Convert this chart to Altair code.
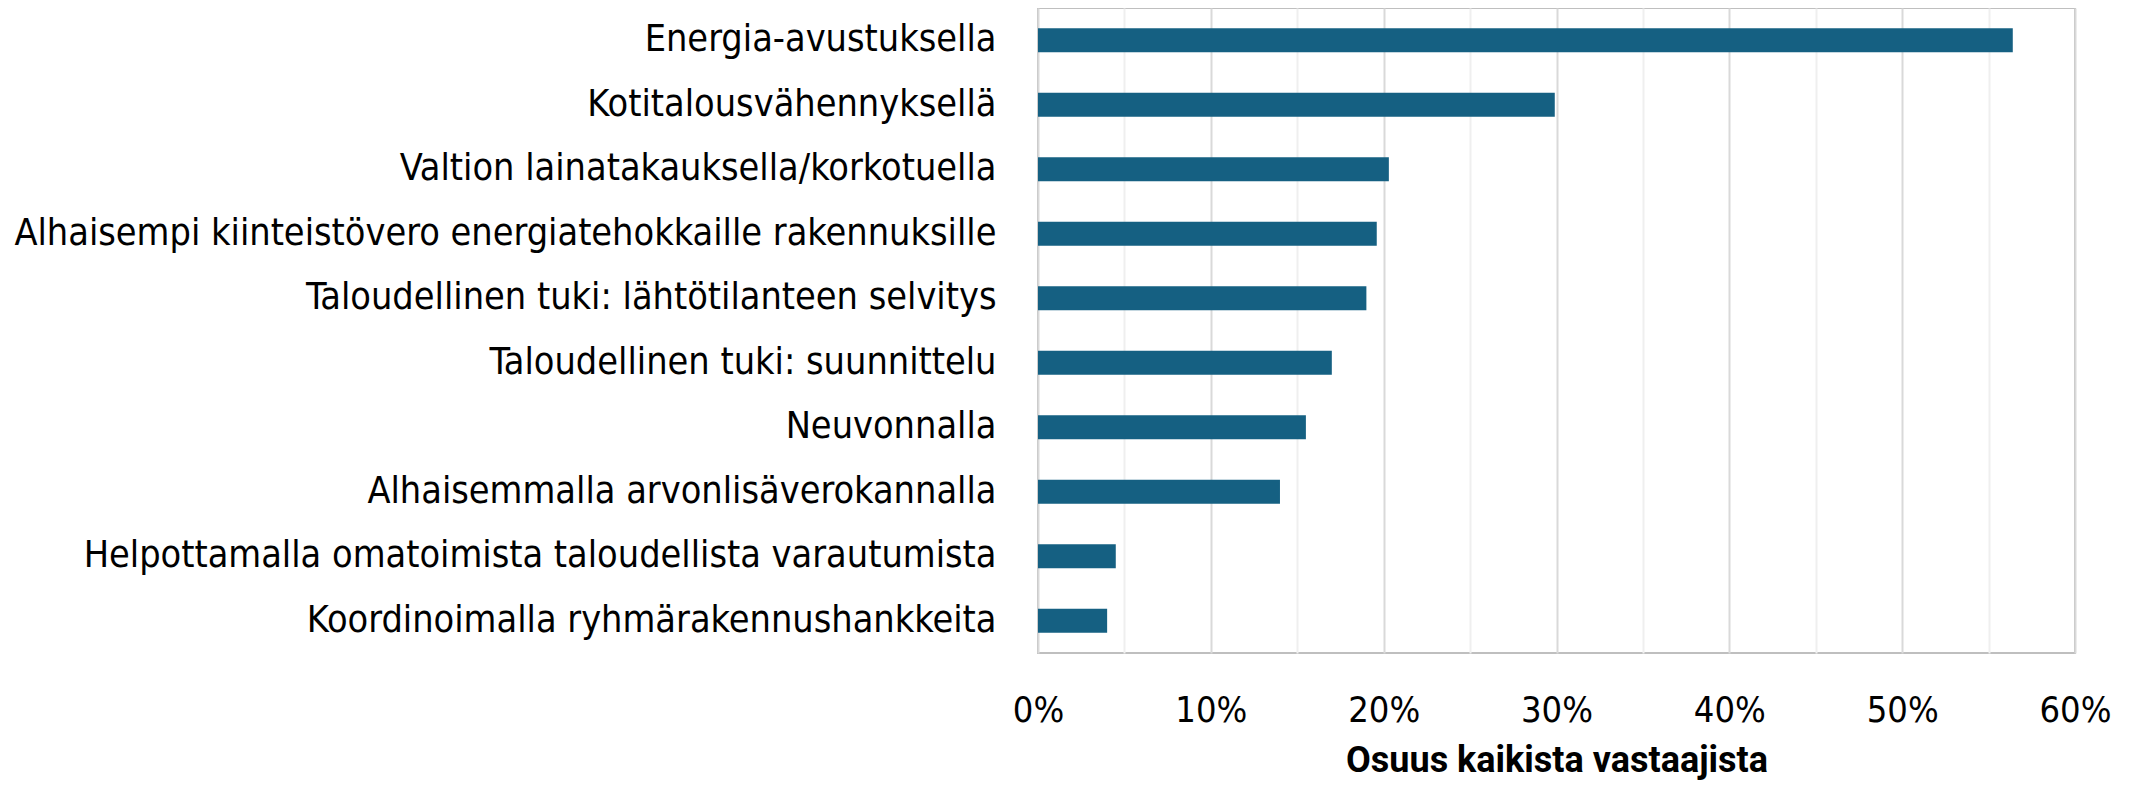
import altair as alt
import pandas as pd

categories = [
    "Energia-avustuksella\u00a0",
    "Kotitalousvähennyksellä",
    "Valtion lainatakauksella/korkotuella\u00a0",
    "Alhaisempi kiinteistövero energiatehokkaille rakennuksille",
    "Taloudellinen tuki: lähtötilanteen selvitys",
    "Taloudellinen tuki: suunnittelu",
    "Neuvonnalla\u00a0",
    "Alhaisemmalla arvonlisäverokannalla\u00a0",
    "Helpottamalla omatoimista taloudellista varautumista",
    "Koordinoimalla ryhmärakennushankkeita\u00a0",
]
values = [56.4, 29.9, 20.3, 19.6, 19.0, 17.0, 15.5, 14.0, 4.5, 4.0]
x_ticks = [0, 5, 10, 15, 20, 25, 30, 35, 40, 45, 50, 55, 60]

df = pd.DataFrame({"cat": categories, "val": values})

LABEL_FONT = "Liberation Sans Narrow, DejaVu Sans Condensed, sans-serif"

chart = (
    alt.Chart(df)
    .mark_bar(color="#156082")
    .encode(
        x=alt.X(
            "val:Q",
            scale=alt.Scale(domain=[0, 60], nice=False),
            axis=alt.Axis(
                values=x_ticks,
                title="Osuus kaikista vastaajista",
                labelExpr="datum.value % 10 == 0 ? datum.value + '%' : ''",
                labelFont=LABEL_FONT,
                labelFontSize=36,
                labelColor="#000000",
                labelPadding=40,
                labelFlush=False,
                ticks=False,
                domain=False,
                grid=True,
                gridColor={
                    "condition": {"test": "datum.value % 10 == 0", "value": "#d9d9d9"},
                    "value": "#efefef",
                },
                gridWidth=2,
                titleFont="Roboto",
                titleFontWeight="bold",
                titleFontSize=36,
                titleColor="#000000",
                titlePadding=15,
            ),
        ),
        y=alt.Y(
            "cat:N",
            sort=categories,
            scale=alt.Scale(paddingInner=0.63, paddingOuter=0.315),
            axis=alt.Axis(
                title=None,
                labelFont=LABEL_FONT,
                labelFontSize=37.5,
                labelColor="#000000",
                labelPadding=42,
                labelLimit=1100,
                ticks=False,
                domain=False,
                grid=False,
            ),
        ),
    )
    .properties(
        width=1037,
        height=645,
        autosize=alt.AutoSizeParams(type="none"),
        padding={"left": 1030, "top": 0, "right": 58, "bottom": 127},
    )
    .configure_view(stroke="#bfbfbf", strokeWidth=2)
)

chart.save("out.html", embed_options={"renderer": "svg", "actions": False})
